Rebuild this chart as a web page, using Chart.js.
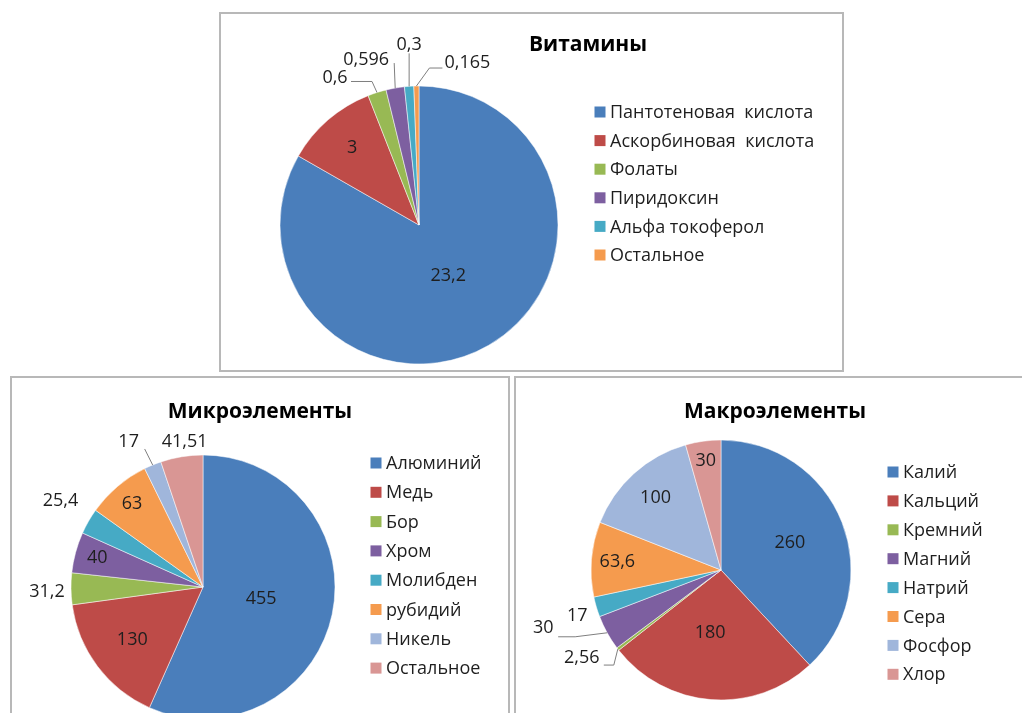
<!DOCTYPE html>
<html>
<head>
<meta charset="utf-8">
<script src="https://cdn.jsdelivr.net/npm/chart.js"></script>
<style>
  html, body { margin: 0; padding: 0; background: #fff; }
  body { width: 1022px; height: 713px; position: relative; overflow: hidden; }
  .box { position: absolute; box-sizing: border-box; border: 2px solid #b8b8b8; }
  canvas { position: absolute; }
</style>
</head>
<body>
<div class="box" style="left:219px;top:12px;width:625px;height:360px"></div>
<div class="box" style="left:10px;top:376px;width:500px;height:345px"></div>
<div class="box" style="left:514px;top:376px;width:512px;height:345px"></div>
<canvas id="vit" width="625" height="360" style="left:219px;top:12px"></canvas>
<canvas id="micro" width="500" height="345" style="left:10px;top:376px"></canvas>
<canvas id="macro" width="512" height="345" style="left:514px;top:376px"></canvas>

<script>
    const vitLabels = ['Пантотеновая  кислота', 'Аскорбиновая  кислота', 'Фолаты', 'Пиридоксин', 'Альфа токоферол', 'Остальное'];
    const vitValues = [23.2, 3, 0.6, 0.596, 0.3, 0.165];

    const microLabels = ['Алюминий', 'Медь', 'Бор', 'Хром', 'Молибден', 'рубидий', 'Никель', 'Остальное'];
    const microValues = [455, 130, 31.2, 40, 25.4, 63, 17, 41.51];

    const macroLabels = ['Калий', 'Кальций', 'Кремний', 'Магний', 'Натрий', 'Сера', 'Фосфор', 'Хлор'];
    const macroValues = [260, 180, 2.56, 30, 17, 63.6, 100, 30];

    const palette = ['#4a7ebb', '#be4b48', '#98b954', '#7d5fa0', '#46aac5', '#f59b4e', '#a0b6db', '#d99694'];

    // label placement: r = fraction of radius (inside), or out = offset from the arc edge
    const vitPlace = [
        { r: 0.42 }, { r: 0.735 },
        { out: [-42, -15], line: [[37, 4], [16, 4]] },
        { out: [-29, -28], line: [[28, 3]] },
        { out: [0, -41], line: [[0, 8]] },
        { out: [51, -23], line: [[-38, 5], [-25, 5]] }
    ];
    const microPlace = [
        { r: 0.45 }, { r: 0.67 },
        { out: [-24, 3] },
        { r: 0.83 },
        { out: [-28, -20] },
        { r: 0.83 },
        { out: [-24, -23], line: [[16, 7]] },
        { out: [3, -15] }
    ];
    const macroPlace = [
        { r: 0.57 }, { r: 0.485, dx: -6 },
        { out: [-36, 9], line: [[32, 7], [22, 7]] },
        { out: [-64, -5], line: [[32, 9], [15, 9]] },
        { out: [-19, 9] },
        { r: 0.8 }, { r: 0.75 }, { r: 0.85 }
    ];

    const pieText = {
        id: 'pieText',
        afterDatasetsDraw(chart, args, o) {
            const ctx = chart.ctx;
            const meta = chart.getDatasetMeta(0);
            const values = chart.data.datasets[0].data;
            ctx.save();
            ctx.font = '18px "Open Sans"';
            ctx.textAlign = 'center';
            ctx.textBaseline = 'middle';
            ctx.strokeStyle = '#7f7f7f';
            ctx.lineWidth = 1;
            meta.data.forEach((arc, i) => {
                const p = o.place[i];
                const a = arc.getProps(['x', 'y', 'startAngle', 'endAngle', 'outerRadius'], true);
                const mid = (a.startAngle + a.endAngle) / 2;
                const c = Math.cos(mid), s = Math.sin(mid);
                let tx, ty;
                const ex = a.x + c * a.outerRadius, ey = a.y + s * a.outerRadius;
                if (p.out) {
                    tx = ex + p.out[0]; ty = ey + p.out[1];
                } else {
                    tx = a.x + c * a.outerRadius * p.r + (p.dx || 0);
                    ty = a.y + s * a.outerRadius * p.r + (p.dy || 0);
                }
                if (p.line) {
                    ctx.beginPath();
                    ctx.moveTo(ex, ey);
                    p.line.forEach(pt => ctx.lineTo(tx + pt[0], ty + pt[1]));
                    ctx.stroke();
                }
                ctx.fillStyle = '#1e1e1e';
                ctx.fillText(String(values[i]).replace('.', ','), tx, ty);
            });

            // title
            ctx.font = 'bold 21px "Open Sans"';
            ctx.fillStyle = '#000';
            ctx.fillText(o.title, o.titleX, o.titleY);

            // legend
            ctx.font = '18px "Open Sans"';
            ctx.textAlign = 'left';
            chart.data.labels.forEach((lab, i) => {
                const y = o.legY + i * o.legStep;
                ctx.fillStyle = palette[i];
                ctx.fillRect(o.legX - 5.5, y - 5.5, 11, 11);
                ctx.fillStyle = '#1e1e1e';
                ctx.fillText(lab, o.legX + 10, y + 1);
            });
            ctx.restore();
        }
    };

    function makePie(id, labels, values, box, cx, cy, r, text) {
        const cnv = document.getElementById(id);
        const x = cx - box.left, y = cy - box.top;
        return new Chart(cnv.getContext('2d'), {
            type: 'pie',
            data: {
                labels: labels,
                datasets: [{
                    data: values,
                    backgroundColor: palette.slice(0, values.length),
                    borderColor: 'rgba(255,255,255,0.5)',
                    borderWidth: 1,
                    radius: r
                }]
            },
            options: {
                responsive: false,
                animation: false,
                layout: {
                    padding: { left: x - r, top: y - r, right: cnv.width - x - r, bottom: cnv.height - y - r }
                },
                plugins: {
                    legend: { display: false },
                    tooltip: { enabled: false },
                    pieText: Object.assign({}, text, {
                        titleX: text.titleX - box.left, titleY: text.titleY - box.top,
                        legX: text.legX - box.left, legY: text.legY - box.top
                    })
                }
            },
            plugins: [pieText]
        });
    }

    makePie('vit', vitLabels, vitValues, { left: 219, top: 12 }, 419, 225, 139,
        { place: vitPlace, title: 'Витамины', titleX: 588, titleY: 45, legX: 600, legY: 112, legStep: 28.6 });
    makePie('micro', microLabels, microValues, { left: 10, top: 376 }, 203, 587, 132,
        { place: microPlace, title: 'Микроэлементы', titleX: 260, titleY: 412, legX: 376, legY: 463, legStep: 29.3 });
    makePie('macro', macroLabels, macroValues, { left: 514, top: 376 }, 721, 570, 130,
        { place: macroPlace, title: 'Макроэлементы', titleX: 775, titleY: 412, legX: 893, legY: 472, legStep: 28.9 });
</script>
</body>
</html>
